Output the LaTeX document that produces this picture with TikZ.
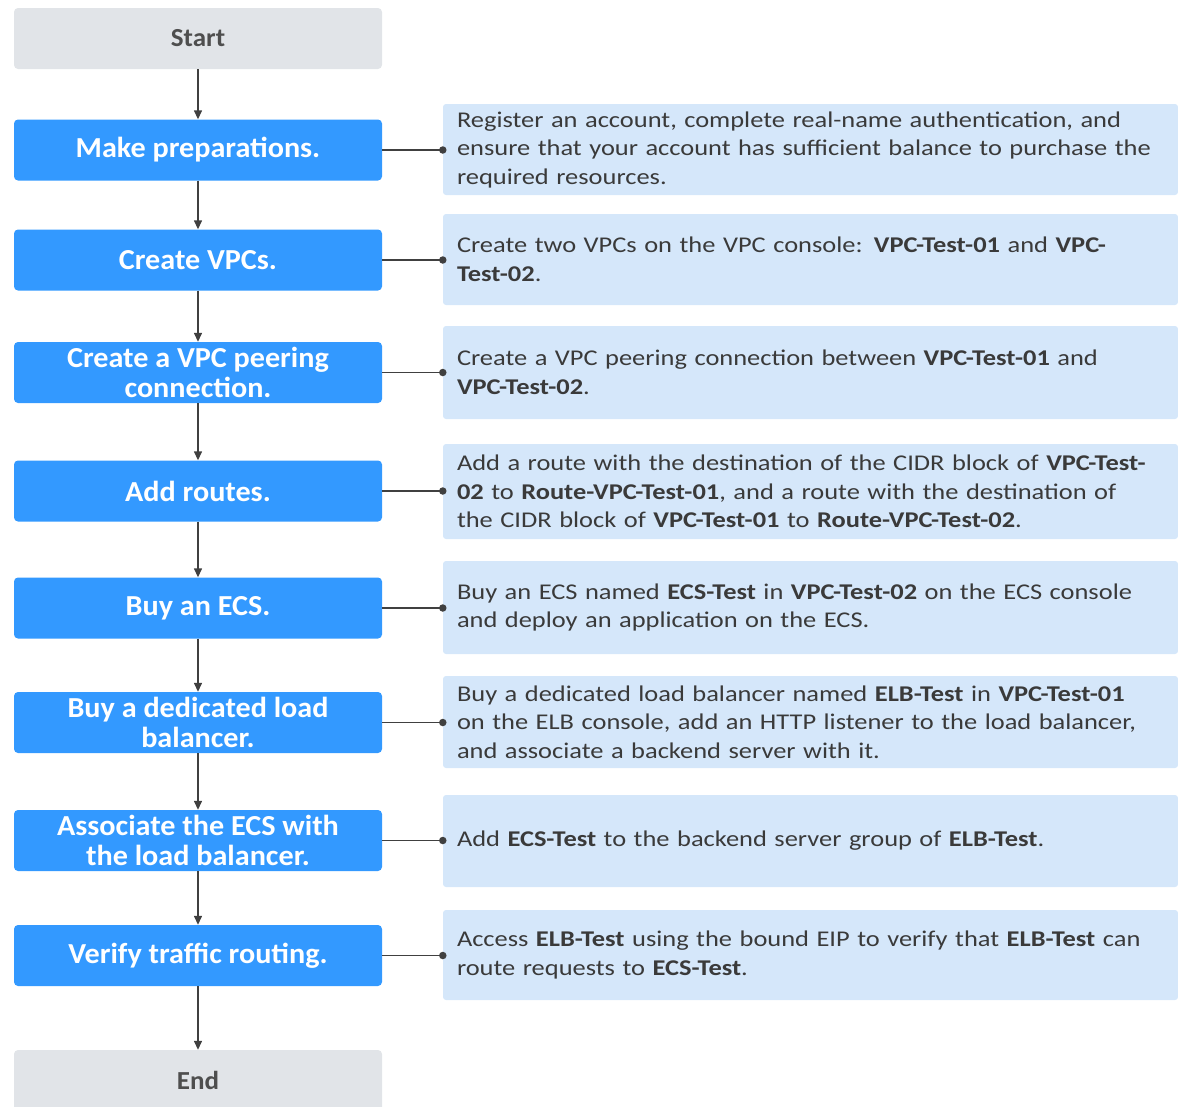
\documentclass[tikz,border=0pt]{standalone}
\usepackage{fontspec}
\setmainfont{Carlito}
\newfontfamily\descfont[FakeStretch=1.175]{Carlito}
\newfontfamily\stepfont[FakeStretch=1.04]{Carlito}
\usetikzlibrary{arrows.meta}
\definecolor{stepblue}{HTML}{3399FF}
\definecolor{endgray}{HTML}{E1E4E8}
\definecolor{descblue}{HTML}{D5E7FA}
\definecolor{txtgray}{HTML}{3A3A3A}
\definecolor{linegray}{HTML}{404040}
\tikzset{
  stepbox/.style={fill=stepblue, rounded corners=4pt, minimum width=368pt, minimum height=61pt,
    text=white, font=\stepfont\fontsize{29}{30}\selectfont\bfseries, align=center, inner sep=0pt},
  termbox/.style={fill=endgray, rounded corners=4pt, minimum width=368pt, minimum height=61pt,
    text=txtgray!90!white, font=\stepfont\fontsize{26}{28}\selectfont\bfseries, inner sep=0pt},
  descbox/.style={fill=descblue, rounded corners=3pt, minimum width=735pt, text width=707pt,
    inner xsep=14pt, inner ysep=0pt, align=left, text=txtgray,
    font=\descfont\fontsize{22.5}{28.5}\selectfont},
  flow/.style={draw=linegray, line width=1.4pt, -{Triangle[length=9pt,width=8pt]}},
  link/.style={draw=linegray, line width=1.4pt},
  dot/.style={circle, fill=linegray, inner sep=0pt, minimum size=7.5pt}
}
\begin{document}
\begin{tikzpicture}[x=1pt,y=-1pt]
\useasboundingbox (0,0) rectangle (1178,1106);
\begin{scope}
\clip (0,0) rectangle (1178,1106);
\node[termbox] (start) at (198,38.5) {Start};
\node[stepbox] (s1) at (198,150) {Make preparations.};
\node[stepbox] (s2) at (198,260) {Create VPCs.};
\node[stepbox] (s3) at (198,372.5) {Create a VPC peering\\connection.};
\node[stepbox] (s4) at (198,491) {Add routes.};
\node[stepbox] (s5) at (198,608) {Buy an ECS.};
\node[stepbox] (s6) at (198,722.5) {Buy a dedicated load\\balancer.};
\node[stepbox] (s7) at (198,840.5) {Associate the ECS with\\the load balancer.};
\node[stepbox] (s8) at (198,955.5) {Verify traffic routing.};
\node[termbox] (end) at (198,1080.5) {End};

\node[descbox, minimum height=91pt] (d1) at (810.5,149.5) {Register an account, complete real-name authentication, and\\ensure that your account has sufficient balance to purchase the\\required resources.};
\node[descbox, minimum height=91pt] (d2) at (810.5,259.5) {Create two VPCs on the VPC console: \textbf{VPC-Test-01} and \textbf{VPC-}\\\textbf{Test-02}.};
\node[descbox, minimum height=93pt] (d3) at (810.5,372.5) {Create a VPC peering connection between \textbf{VPC-Test-01} and\\\textbf{VPC-Test-02}.};
\node[descbox, minimum height=95pt] (d4) at (810.5,491.5) {Add a route with the destination of the CIDR block of \textbf{VPC-Test-}\\\textbf{02} to \textbf{Route-VPC-Test-01}, and a route with the destination of\\the CIDR block of \textbf{VPC-Test-01} to \textbf{Route-VPC-Test-02}.};
\node[descbox, minimum height=93pt] (d5) at (810.5,607.5) {Buy an ECS named \textbf{ECS-Test} in \textbf{VPC-Test-02} on the ECS console\\and deploy an application on the ECS.};
\node[descbox, minimum height=92pt] (d6) at (810.5,722) {Buy a dedicated load balancer named \textbf{ELB-Test} in \textbf{VPC-Test-01}\\on the ELB console, add an HTTP listener to the load balancer,\\and associate a backend server with it.};
\node[descbox, minimum height=92pt] (d7) at (810.5,841) {Add \textbf{ECS-Test} to the backend server group of \textbf{ELB-Test}.};
\node[descbox, minimum height=90pt] (d8) at (810.5,955) {Access \textbf{ELB-Test} using the bound EIP to verify that \textbf{ELB-Test} can\\route requests to \textbf{ECS-Test}.};

\draw[flow] (start) -- (s1);
\draw[flow] (s1) -- (s2);
\draw[flow] (s2) -- (s3);
\draw[flow] (s3) -- (s4);
\draw[flow] (s4) -- (s5);
\draw[flow] (s5) -- (s6);
\draw[flow] (s6) -- (s7);
\draw[flow] (s7) -- (s8);
\draw[flow] (s8) -- (end);

\foreach \i in {1,...,8}{
  \draw[link] (s\i.east) -- (s\i.east -| d\i.west) node[dot] {};
}
\end{scope}
\end{tikzpicture}
\end{document}
